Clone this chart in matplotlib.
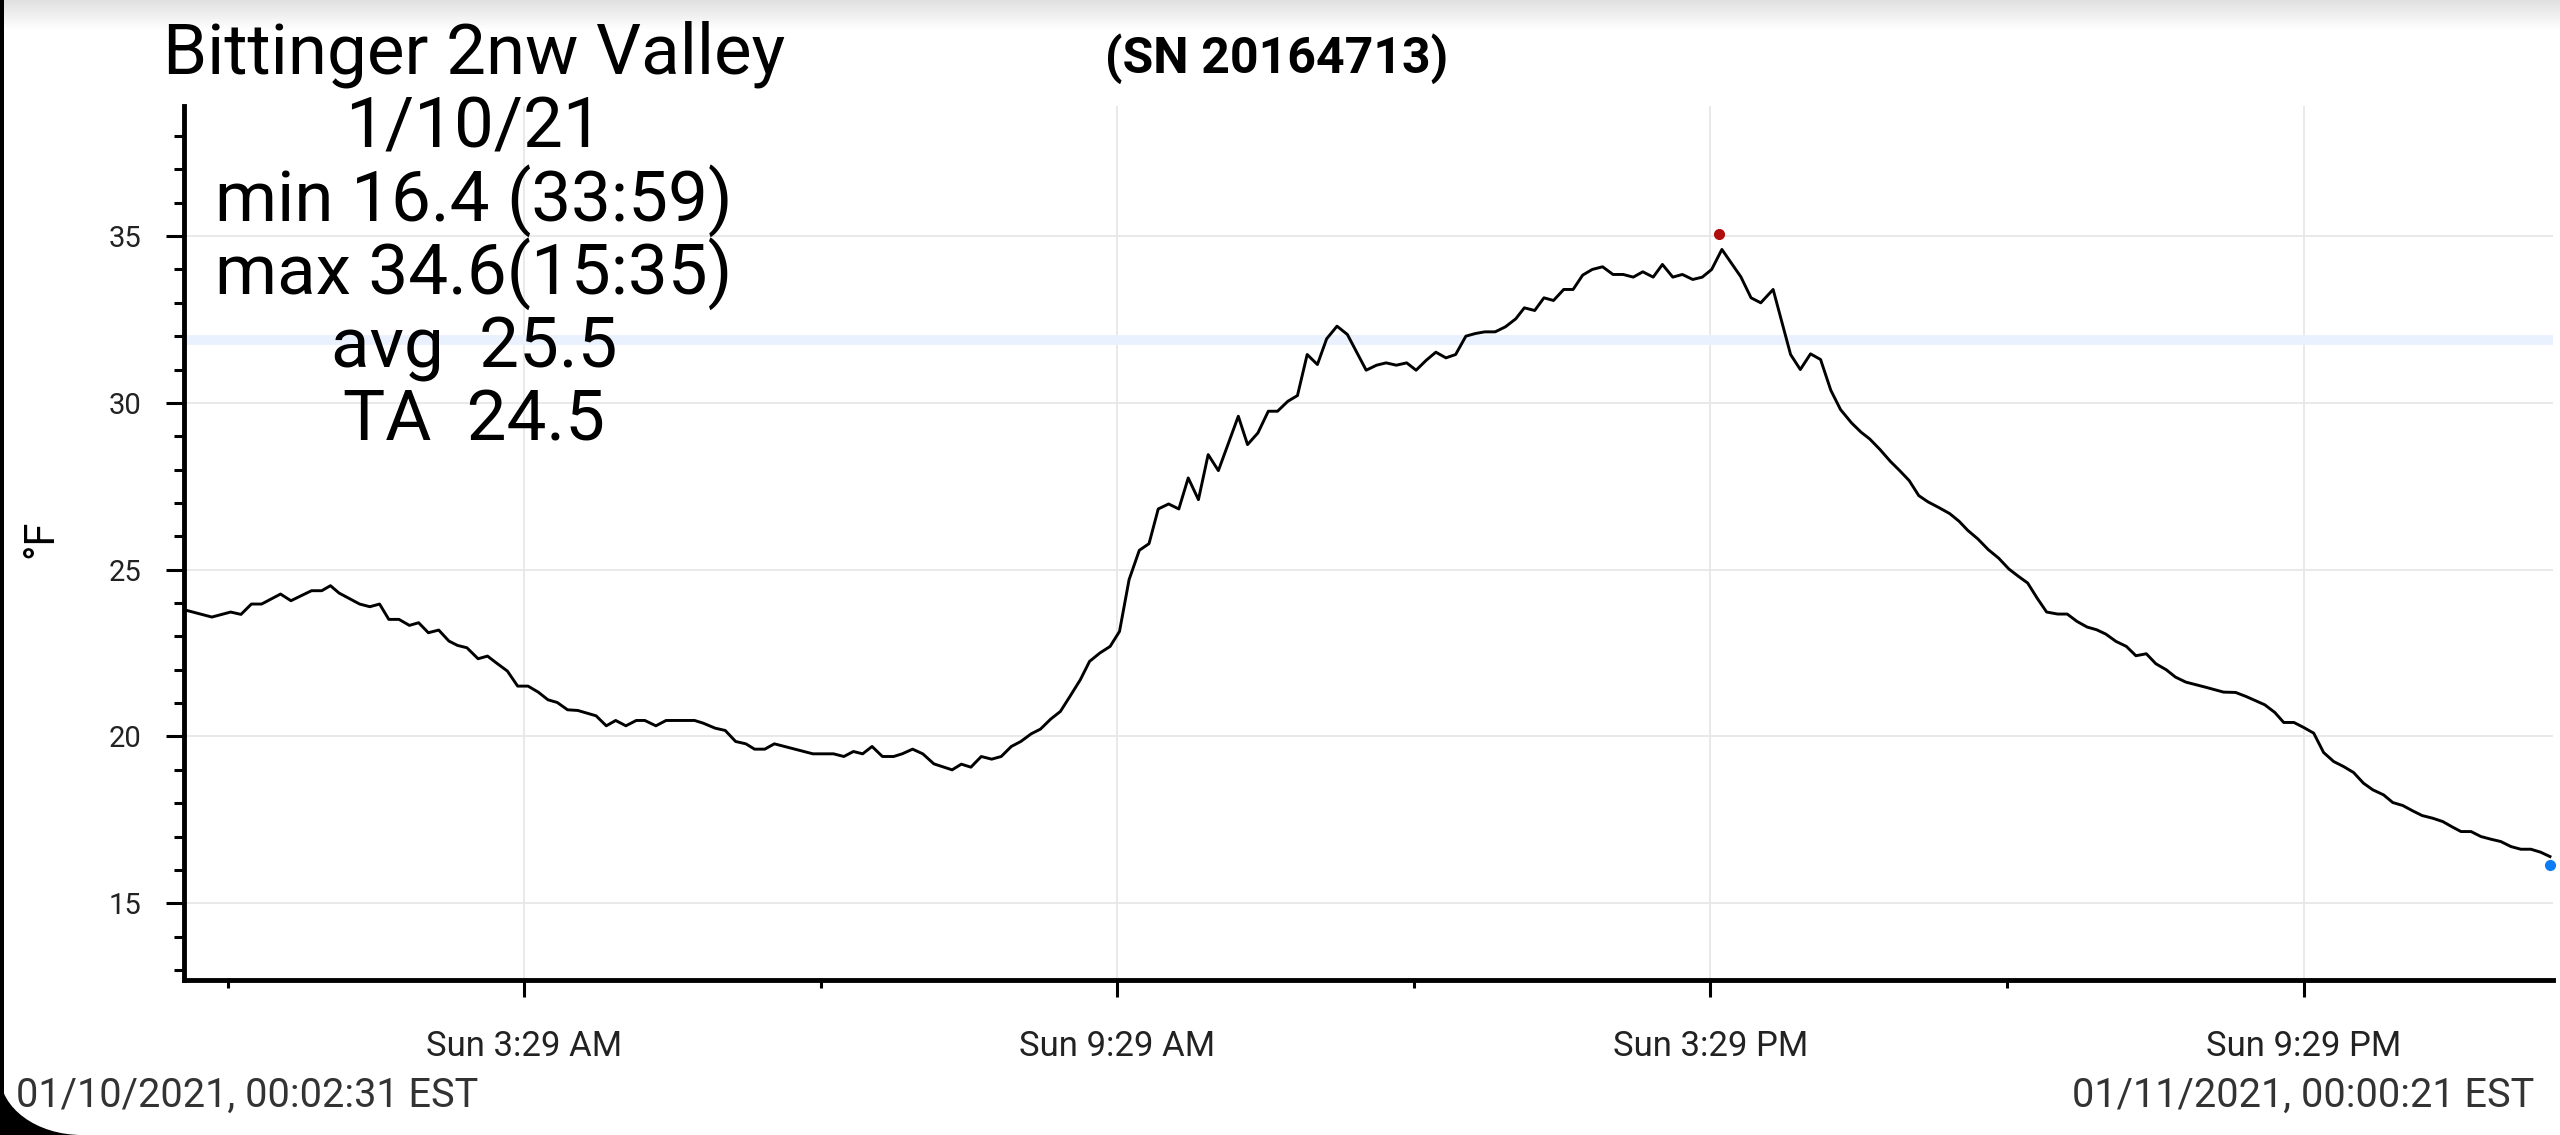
import numpy as np
import pandas as pd
import matplotlib
matplotlib.use("Agg")
import matplotlib.pyplot as plt
import matplotlib.dates as mdates
import matplotlib.transforms as mtransforms
from matplotlib.patches import PathPatch
from matplotlib.path import Path

plt.rcParams['font.family'] = ['Roboto', 'DejaVu Sans']

# logger readings, minutes after the first reading (01/10/2021 00:02:31 EST)
minutes = [0, 16.9, 28.3, 34.6, 40.9, 47.1, 58.6, 64.9, 77.4, 83.6, 88.9, 94.1, 106.6, 112.8,
           118.7, 124.3, 130.5, 136.8, 142.4, 148.3, 154.6, 160.8, 166.0, 171.7, 178.5, 184.2,
           190.0, 196.3, 202.5, 208.8, 215.0, 220.9, 226.5, 232.8, 239.0, 250.1, 256.3, 262.0,
           268.2, 274.5, 279.7, 286.4, 292.6, 309.9, 315.1, 322.3, 328.5, 334.8, 341.0, 346.3,
           352.5, 358.3, 381.7, 394.2, 400.5, 406.3, 411.9, 417.6, 423.9, 430.7, 435.9, 442.2,
           448.4, 455.1, 466.2, 471.8, 477.6, 483.9, 490.2, 496.0, 502.1, 507.9, 514.2, 519.8,
           526.0, 531.9, 537.7, 544.0, 549.6, 555.8, 562.1, 567.8, 573.6, 579.8, 585.7, 591.3,
           597.6, 603.8, 609.5, 615.7, 621.6, 627.8, 639.9, 645.5, 651.8, 658.1, 663.7, 670.0,
           675.8, 681.7, 687.9, 693.5, 699.8, 706.1, 717.5, 723.8, 729.6, 735.8, 742.1, 747.8,
           754.0, 759.8, 765.9, 771.8, 778.0, 783.8, 789.5, 795.8, 802.0, 808.3, 813.5, 819.8,
           825.4, 831.2, 837.4, 843.1, 848.9, 854.7, 861.0, 867.3, 873.5, 879.6, 885.4, 891.7,
           897.3, 903.6, 909.4, 915.7, 921.5, 927.2, 933.4, 944.9, 951.1, 957.0, 964.5, 975.1,
           981.0, 987.2, 993.3, 999.5, 1005.4, 1012.1, 1017.9, 1023.1, 1029.4, 1035.6, 1041.3,
           1047.1, 1052.9, 1058.6, 1064.8, 1071.7, 1077.4, 1082.6, 1088.8, 1095.1, 1101.3,
           1107.6, 1113.4, 1119.0, 1124.7, 1130.5, 1137.2, 1143.0, 1148.9, 1155.1, 1160.8,
           1166.4, 1172.6, 1178.9, 1184.7, 1191.0, 1196.8, 1203.1, 1208.7, 1215.0, 1221.3,
           1227.5, 1237.9, 1245.2, 1251.5, 1262.9, 1269.0, 1274.4, 1280.6, 1286.5, 1292.6,
           1298.6, 1304.7, 1310.7, 1316.8, 1322.8, 1328.5, 1335.0, 1340.6, 1346.7, 1352.7,
           1358.4, 1364.8, 1370.9, 1377.0, 1382.0, 1388.1, 1394.1, 1400.2, 1406.2, 1412.3,
           1418.3, 1424.4, 1430.4, 1436.0]
temp_f = [23.8, 23.58, 23.73, 23.66, 23.97, 23.97, 24.27, 24.07, 24.37, 24.37, 24.52, 24.3, 23.97,
          23.89, 23.97, 23.51, 23.51, 23.33, 23.41, 23.11, 23.19, 22.86, 22.73, 22.66, 22.33,
          22.41, 22.19, 21.96, 21.51, 21.51, 21.33, 21.1, 21.02, 20.8, 20.78, 20.62, 20.32, 20.48,
          20.32, 20.48, 20.48, 20.32, 20.48, 20.48, 20.4, 20.25, 20.18, 19.85, 19.78, 19.62,
          19.62, 19.78, 19.48, 19.48, 19.4, 19.55, 19.48, 19.7, 19.4, 19.4, 19.48, 19.62, 19.48,
          19.18, 19.0, 19.17, 19.08, 19.4, 19.32, 19.4, 19.7, 19.85, 20.08, 20.22, 20.52, 20.75,
          21.2, 21.7, 22.25, 22.5, 22.7, 23.15, 24.7, 25.58, 25.78, 26.82, 26.97, 26.82, 27.75,
          27.1, 28.45, 27.97, 29.6, 28.75, 29.1, 29.75, 29.75, 30.05, 30.22, 31.45, 31.15, 31.92,
          32.3, 32.05, 30.98, 31.13, 31.2, 31.13, 31.2, 30.98, 31.28, 31.52, 31.35, 31.45, 32.0,
          32.08, 32.13, 32.13, 32.28, 32.52, 32.85, 32.77, 33.15, 33.07, 33.4, 33.4, 33.83, 34.0,
          34.08, 33.85, 33.85, 33.77, 33.93, 33.77, 34.15, 33.77, 33.85, 33.7, 33.77, 34.0, 34.6,
          33.78, 33.15, 33.0, 33.4, 31.45, 31.0, 31.47, 31.3, 30.38, 29.8, 29.4, 29.12, 28.92,
          28.6, 28.25, 27.97, 27.67, 27.22, 27.03, 26.87, 26.68, 26.45, 26.18, 25.92, 25.6,
          25.35, 25.02, 24.8, 24.6, 24.15, 23.73, 23.67, 23.67, 23.45, 23.28, 23.2, 23.07, 22.85,
          22.7, 22.42, 22.48, 22.18, 22.0, 21.78, 21.63, 21.55, 21.47, 21.33, 21.32, 21.2, 20.95,
          20.72, 20.42, 20.42, 20.27, 20.1, 19.52, 19.25, 19.1, 18.92, 18.6, 18.4, 18.25, 18.02,
          17.93, 17.77, 17.63, 17.55, 17.45, 17.28, 17.15, 17.15, 17.0, 16.92, 16.85, 16.7,
          16.62, 16.62, 16.53, 16.4]

start_time = "2021-01-10 00:02:31"
end_time = "2021-01-11 00:00:21"
major_times = ["2021-01-10 03:29", "2021-01-10 09:29", "2021-01-10 15:29", "2021-01-10 21:29"]
major_labels = ["Sun 3:29 AM", "Sun 9:29 AM", "Sun 3:29 PM", "Sun 9:29 PM"]
minor_times = ["2021-01-10 00:29", "2021-01-10 06:29", "2021-01-10 12:29", "2021-01-10 18:29"]
freeze_line = 31.9

info_lines = ["Bittinger 2nw Valley", "1/10/21", "min 16.4 (33:59)", "max 34.6(15:35)",
              "avg  25.5", "TA  24.5"]
serial = "(SN 20164713)"
start_label = "01/10/2021, 00:02:31 EST"
end_label = "01/11/2021, 00:00:21 EST"

W, H = 2560, 1135
fig = plt.figure(figsize=(W / 100, H / 100), dpi=100)
fig.patch.set_facecolor("white")

# plot area in pixel coordinates of the screenshot
L, R, T, B = 184, 2553, 106, 980
ax = fig.add_axes([L / W, 1 - B / H, (R - L) / W, (B - T) / H])

times = pd.Timestamp(start_time) + pd.to_timedelta(minutes, unit="min")
x = mdates.date2num(times.to_pydatetime())

ax.axhline(freeze_line, color="#e8f1fd", lw=7, zorder=1)
ax.plot(x, temp_f, color="black", lw=2.1, zorder=3)

imax = int(np.argmax(temp_f))
imin = int(np.argmin(temp_f))
up = mtransforms.offset_copy(ax.transData, fig=fig, x=-2, y=11, units="points")
down = mtransforms.offset_copy(ax.transData, fig=fig, x=0, y=-6, units="points")
ax.plot(x[imax], temp_f[imax], "o", color="#b00d0d", ms=7, transform=up, zorder=4, clip_on=False)
ax.plot(x[imin], temp_f[imin], "o", color="#0b7cf5", ms=7, transform=down, zorder=4, clip_on=False)

ax.set_xlim(mdates.date2num(pd.Timestamp(start_time)), mdates.date2num(pd.Timestamp(end_time)))
ax.set_ylim(12.7, 38.9)

ax.set_xticks(mdates.date2num(pd.to_datetime(major_times).to_pydatetime()))
ax.set_xticklabels(major_labels)
ax.set_xticks(mdates.date2num(pd.to_datetime(minor_times).to_pydatetime()), minor=True)
ax.set_yticks([15, 20, 25, 30, 35])
ax.set_yticks(np.arange(13, 39), minor=True)

ax.grid(True, which="major", color="#e7e7e7", lw=1.3, zorder=0)
ax.set_axisbelow(True)
for side in ["top", "right"]:
    ax.spines[side].set_visible(False)
for side in ["left", "bottom"]:
    ax.spines[side].set_linewidth(3.5)
    ax.spines[side].set_color("black")

ax.tick_params(axis="x", which="major", length=12, width=2.2, pad=24, labelsize=25)
ax.tick_params(axis="x", which="minor", length=6, width=2.2)
ax.tick_params(axis="y", which="major", length=13, width=2.2, pad=18, labelsize=21, labelcolor="#222222")
ax.tick_params(axis="y", which="minor", length=7, width=2.2)
for lab in ax.get_xticklabels():
    lab.set_color("#222222")

fig.text(41 / W, 1 - 539 / H, "°F", rotation=90, fontsize=30, ha="center", va="center")

# station info block, centred over the left part of the chart
for k, line in enumerate(info_lines):
    fig.text(474 / W, 1 - (74 + 73.3 * k) / H, line, fontsize=51, ha="center", va="baseline")
fig.text(1277 / W, 1 - 73 / H, serial, fontsize=36, fontweight="bold", ha="center", va="baseline")

fig.text(16 / W, 1 - 1107 / H, start_label, fontsize=28.5, color="#333333", ha="left", va="baseline")
fig.text(2534 / W, 1 - 1107 / H, end_label, fontsize=28.5, color="#333333", ha="right", va="baseline")

# screenshot frame: grey shade at the top, black edge and rounded corner at the bottom left
shade = fig.add_axes([0, 1 - 30 / H, 1, 30 / H], zorder=-1)
grad = np.linspace(0.88, 1.0, 30).reshape(-1, 1)
shade.imshow(np.dstack([grad, grad, grad]), aspect="auto", extent=[0, 1, 0, 1])
shade.axis("off")

px = fig.transFigure
rx, ry, k = 82 / W, 60 / H, 0.5523
corner = Path([(0, 0), (rx, 0), (rx * (1 - k), 0), (0, ry * (1 - k)), (0, ry), (0, 0)],
              [Path.MOVETO, Path.LINETO, Path.CURVE4, Path.CURVE4, Path.CURVE4, Path.CLOSEPOLY])
fig.patches.append(PathPatch(corner, transform=px, facecolor="black", edgecolor="none"))
fig.patches.append(plt.Rectangle((0, 0), 4 / W, 1, transform=px, facecolor="black", edgecolor="none"))

fig.savefig("out.png", dpi=100, facecolor="white")
